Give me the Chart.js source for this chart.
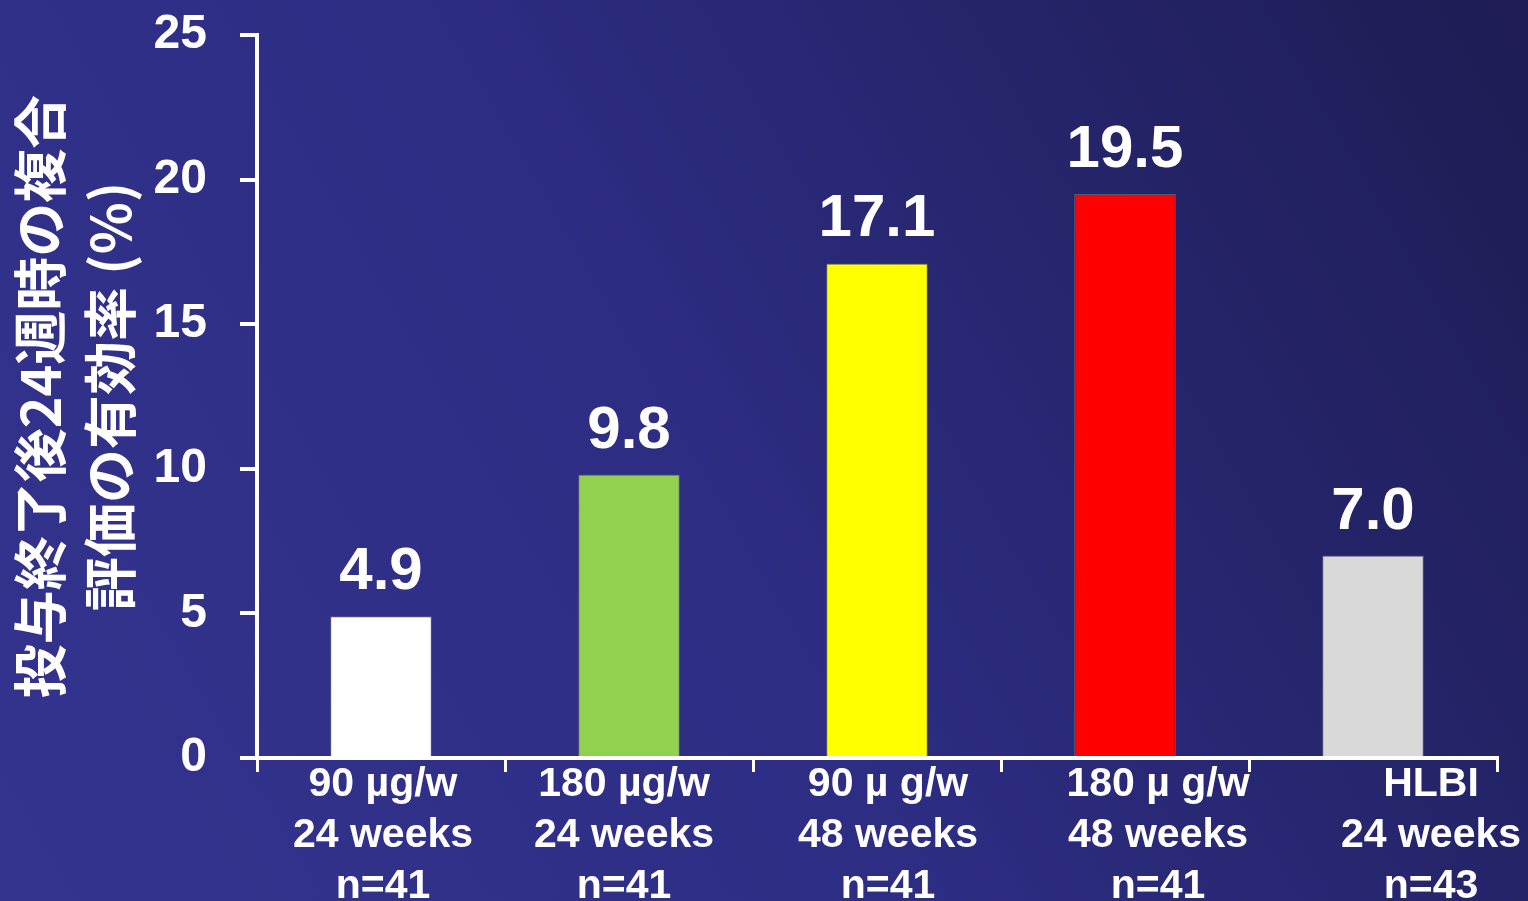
<!DOCTYPE html>
<html>
<head>
<meta charset="utf-8">
<script src="https://cdn.jsdelivr.net/npm/chart.js"></script>
<style>
  html, body { margin: 0; padding: 0; overflow: hidden; }
  body {
    width: 1528px; height: 901px;
    background: linear-gradient(60deg, #34348f 0%, #2d2d84 45%, #1e1c52 100%);
  }
  canvas { display: block; }
</style>
</head>
<body>
<canvas id="effChart" width="1528" height="901"></canvas>
<script>
const categories = [
  ["90 µg/w", "24 weeks", "n=41"],
  ["180 µg/w", "24 weeks", "n=41"],
  ["90 µ g/w", "48 weeks", "n=41"],
  ["180 µ g/w", "48 weeks", "n=41"],
  ["HLBI", "24 weeks", "n=43"],
];
const values = [4.9, 9.8, 17.1, 19.5, 7.0];
const yTicks = [0, 5, 10, 15, 20, 25];
const yTitle = ["投与終了後24週時の複合", "評価の有効率 (%)"];

// styles
const barColors = ["#ffffff", "#92d050", "#ffff00", "#ff0000", "#d9d9d9"];
const labelShift = [2, -5, 11, 33, 58]; // 원본 슬라이드의 라벨 위치 보정
const LATIN = "'Liberation Sans', Arial, sans-serif";

const canvas = document.getElementById("effChart");
const ctx = canvas.getContext("2d");

new Chart(ctx, {
  type: "bar",
  data: {
    labels: categories,
    datasets: [
      {
        data: values,
        backgroundColor: barColors,
        borderColor: "rgba(120,120,120,0.6)",
        borderWidth: 1,
        barPercentage: 0.41,
        categoryPercentage: 1,
      },
    ],
  },
  options: {
    responsive: false,
    animation: false,
    layout: { padding: { top: 35, right: 31, left: 0, bottom: 0 } },
    plugins: { legend: { display: false }, tooltip: { enabled: false } },
    scales: {
      y: {
        min: 0,
        max: 25,
        afterBuildTicks: (scale) => {
          scale.ticks = yTicks.map((v) => ({ value: v }));
        },
        afterFit: (scale) => {
          scale.width = 257;
          scale.paddingTop = 0; // 라벨 여백 때문에 차트 영역이 밀리지 않게
          scale.paddingBottom = 0;
        },
        border: { color: "#ffffff", width: 4 },
        grid: {
          drawOnChartArea: false,
          drawTicks: true,
          tickLength: 17,
          color: "#ffffff",
          lineWidth: 4,
        },
        ticks: {
          padding: 33,
          color: "#ffffff",
          font: { family: LATIN, size: 48, weight: "bold" },
        },
        title: {
          display: true,
          text: yTitle,
          color: "#ffffff",
          padding: { top: 5, bottom: 0 },
          font: { family: "'Noto Sans CJK JP', sans-serif", size: 54, weight: "bold", lineHeight: 1.3 },
        },
      },
      x: {
        afterFit: (scale) => { scale.height = 143; },
        border: { color: "#ffffff", width: 4 },
        grid: {
          offset: true,
          drawOnChartArea: false,
          drawTicks: true,
          tickLength: 14,
          color: "#ffffff",
          lineWidth: 3,
        },
        ticks: { display: false },
      },
    },
  },
  plugins: [
    {
      id: "valueLabels",
      afterDatasetsDraw: (chart) => {
        const c = chart.ctx;
        const meta = chart.getDatasetMeta(0);
        c.save();
        c.fillStyle = "#ffffff";
        c.font = "bold 60px " + LATIN;
        c.textAlign = "center";
        c.textBaseline = "alphabetic";
        meta.data.forEach((bar, i) => {
          c.fillText(values[i].toFixed(1), bar.x, bar.y - 27);
        });
        c.restore();
      },
    },
    {
      id: "categoryLabels",
      afterDraw: (chart) => {
        const c = chart.ctx;
        const xs = chart.scales.x;
        c.save();
        c.fillStyle = "#ffffff";
        c.font = "bold 41px " + LATIN;
        c.textAlign = "center";
        c.textBaseline = "middle";
        categories.forEach((lines, i) => {
          const x = xs.getPixelForTick(i) + labelShift[i];
          lines.forEach((t, j) => {
            c.fillText(t, x, xs.top + 27 + j * 51);
          });
        });
        c.restore();
      },
    },
  ],
});
</script>
</body>
</html>
